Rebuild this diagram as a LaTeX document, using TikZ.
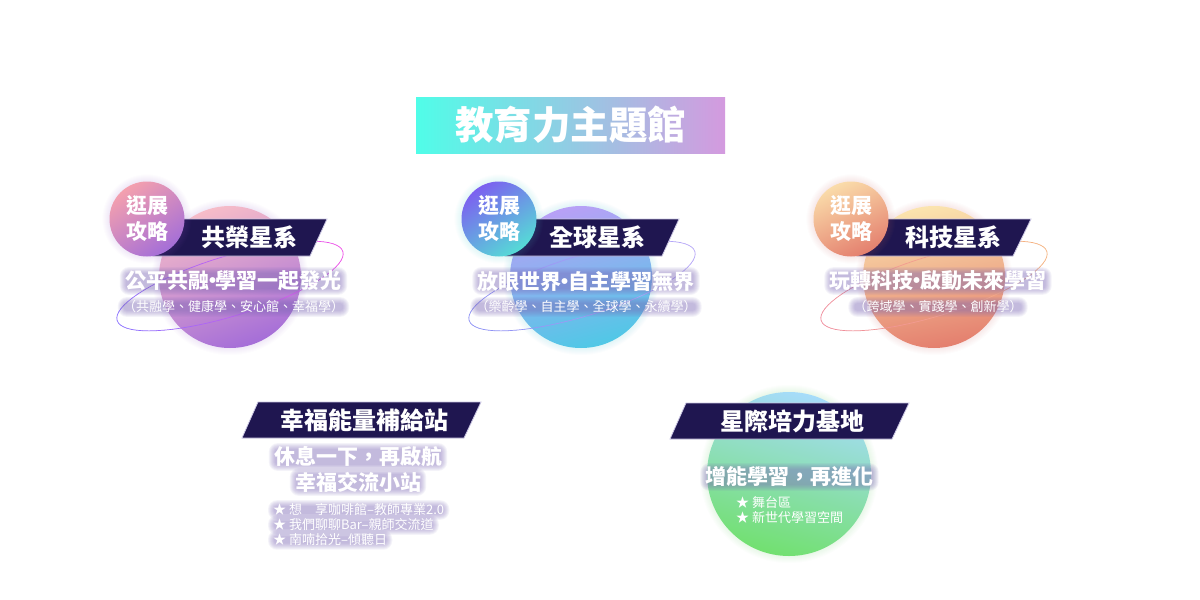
\documentclass[tikz,border=0pt]{standalone}
\usepackage{fontspec}
\setmainfont{Noto Sans CJK TC}
\newfontfamily\tcfont{Noto Sans CJK TC}
\newcommand{\middot}{\makebox[0.33em][c]{·}}
\pgfdeclarelayer{glowlayer}
\pgfdeclarelayer{textlayer}
\pgfsetlayers{main,glowlayer,textlayer}
\definecolor{bandark}{HTML}{1F1650}
\definecolor{banline}{HTML}{C9C5E2}
\definecolor{halo}{HTML}{7C68B8}
\definecolor{titleL}{HTML}{50FDE8}
\definecolor{titleR}{HTML}{D49ADF}
\definecolor{ringmag}{HTML}{F050E8}
\definecolor{ringvio}{HTML}{8A70FF}
\definecolor{ringlav}{HTML}{B8A8F8}
\definecolor{ringper}{HTML}{8C90F5}
\definecolor{ringora}{HTML}{F5B480}
\definecolor{ringros}{HTML}{F08C9C}
\tikzset{
  banner/.style={fill=bandark,draw=banline,line width=0.8pt,line join=miter},
  txt/.style={inner sep=0pt,text=white,font=\tcfont},
  ringline/.style={line width=0.7pt,line cap=round}
}
% soft halo behind a disc
\newcommand{\softhalo}[4]{%
  \foreach \haloi in {1,...,7}{\pgfmathsetmacro{\halor}{#3+\haloi}\fill[#4,opacity=.02] (#1,#2) circle (\halor);}}
% shaded disc: x, y, radius, angle, top, middle, bottom
\newcommand{\planet}[7]{%
  \softhalo{#1}{#2}{#3}{#7}%
  \shade[top color=#5,middle color=#6,bottom color=#7,shading angle=#4] (#1,#2) circle (#3);}
% plain text: name, position, size, weight, anchor, text
\newcommand{\ptext}[6]{%
  \begin{pgfonlayer}{textlayer}
    \node[txt,anchor=#5,font=\tcfont#4\fontsize{#3}{#3}\selectfont] (#1) at (#2) {#6};
  \end{pgfonlayer}}
% text on a soft glow band
\newcommand{\gtext}[6]{%
  \ptext{#1}{#2}{#3}{#4}{#5}{#6}%
  \begin{pgfonlayer}{glowlayer}
    \foreach \glowk in {5,4,3,2,1,0,-1}{%
      \pgfmathsetmacro{\glowr}{\glowk+4}%
      \fill[halo,opacity=.08,rounded corners=\glowr pt]
        ([shift={(-\glowk,-\glowk+1.5)}]#1.north west) rectangle ([shift={(\glowk,\glowk-1.5)}]#1.south east);%
    }
  \end{pgfonlayer}}
% tilted ellipse with a colour running from left to right
\newcommand{\ringpath}[4]{%
  \colorlet{ringR}{#3}\colorlet{ringL}{#4}%
  \foreach \ringang in {0,5,...,355}{%
    \pgfmathtruncatemacro{\ringmix}{50+50*cos(\ringang+2.5)}%
    \colorlet{ringC}{ringR!\ringmix!ringL}%
    \pgfmathsetmacro{\ringxa}{#1+118*cos(\ringang)*cos(17)+30*sin(\ringang)*sin(17)}%
    \pgfmathsetmacro{\ringya}{#2-118*cos(\ringang)*sin(17)+30*sin(\ringang)*cos(17)}%
    \pgfmathsetmacro{\ringxb}{#1+118*cos(\ringang+5)*cos(17)+30*sin(\ringang+5)*sin(17)}%
    \pgfmathsetmacro{\ringyb}{#2-118*cos(\ringang+5)*sin(17)+30*sin(\ringang+5)*cos(17)}%
    \draw[ringline,draw=ringC] (\ringxa,\ringya) -- (\ringxb,\ringyb);%
  }}
% colours of the planets
\definecolor{pA}{HTML}{F6BCC8}\definecolor{pB}{HTML}{E596BC}\definecolor{pC}{HTML}{A56ED8}
\definecolor{qA}{HTML}{B8A0F6}\definecolor{qB}{HTML}{7FB0EA}\definecolor{qC}{HTML}{50C8E6}
\definecolor{rA}{HTML}{FBE4AE}\definecolor{rB}{HTML}{F3AE90}\definecolor{rC}{HTML}{E47F6E}
\definecolor{sA}{HTML}{A6DCFA}\definecolor{sB}{HTML}{72C8BE}\definecolor{sC}{HTML}{72E070}
\definecolor{baA}{HTML}{F4A0AE}\definecolor{baB}{HTML}{CE88C4}\definecolor{baC}{HTML}{A46ED8}
\definecolor{bbA}{HTML}{7C60F0}\definecolor{bbB}{HTML}{62A0E4}\definecolor{bbC}{HTML}{55DCD6}
\definecolor{bcA}{HTML}{FADCAA}\definecolor{bcB}{HTML}{F0AE8E}\definecolor{bcC}{HTML}{E47F6E}
\begin{document}
\begin{tikzpicture}[x=1pt,y=-1pt]
\useasboundingbox (0,0) rectangle (1200,600);
\fill[white] (0,0) rectangle (1200,600);

% title
\node[inner sep=0pt,minimum width=309pt,minimum height=56pt,left color=titleL,right color=titleR] (titlebox) at (570.5,125) {};
\ptext{titletext}{570.5,125}{38.5}{\bfseries}{center}{教育力主題館}

% ---------- planet 1
\planet{230}{277}{71}{20}{pA}{pB}{pC}
\ringpath{230}{286}{ringmag}{ringvio}
\draw[banner] (172,219) -- (327,219) -- (310,256) -- (153,256) -- cycle;
\planet{147}{219}{37.5}{35}{baA}{baB}{baC}

% ---------- planet 2
\planet{581}{277}{71}{15}{qA}{qB}{qC}
\ringpath{582}{286}{ringlav}{ringper}
\draw[banner] (524,219) -- (679,219) -- (662,256) -- (505,256) -- cycle;
\planet{499}{219}{37.5}{35}{bbA}{bbB}{bbC}

% ---------- planet 3
\planet{934}{277}{71}{10}{rA}{rB}{rC}
\ringpath{934}{286}{ringora}{ringros}
\draw[banner] (876,219) -- (1031,219) -- (1013,256) -- (857,256) -- cycle;
\planet{851}{219}{37.5}{25}{bcA}{bcB}{bcC}

% ---------- planet 5
\planet{789}{474}{82}{-15}{sA}{sB}{sC}

% ---------- banners 4 and 5
\draw[banner] (258,402) -- (481,402) -- (464,438) -- (242,438) -- cycle;
\draw[banner] (686,403) -- (909,403) -- (892,439) -- (670,439) -- cycle;

% ---------- texts, planet 1
\ptext{b1a}{147,206}{21}{\bfseries}{center}{逛展}
\ptext{b1b}{147,231}{21}{\bfseries}{center}{攻略}
\ptext{h1}{249.5,237}{24}{\bfseries}{center}{共榮星系}
\gtext{s1}{233.5,281}{21}{\bfseries}{center}{公平共融\middot 學習一起發光}
\gtext{d1}{233.5,307}{13}{}{center}{（共融學、健康學、安心館、幸福學）}

% ---------- texts, planet 2
\ptext{b2a}{499,206}{21}{\bfseries}{center}{逛展}
\ptext{b2b}{499,231}{21}{\bfseries}{center}{攻略}
\ptext{h2}{597.5,237}{24}{\bfseries}{center}{全球星系}
\gtext{s2}{586,281}{21}{\bfseries}{center}{放眼世界\middot 自主學習無界}
\gtext{d2}{586,307}{13}{}{center}{（樂齡學、自主學、全球學、永續學）}

% ---------- texts, planet 3
\ptext{b3a}{851,206}{21}{\bfseries}{center}{逛展}
\ptext{b3b}{851,231}{21}{\bfseries}{center}{攻略}
\ptext{h3}{953,237}{24}{\bfseries}{center}{科技星系}
\gtext{s3}{938,281}{21}{\bfseries}{center}{玩轉科技\middot 啟動未來學習}
\gtext{d3}{938,307}{13}{}{center}{（跨域學、實踐學、創新學）}

% ---------- texts, station 4
\ptext{h4}{364,420}{24}{\bfseries}{center}{幸福能量補給站}
\gtext{s4a}{358,457}{21}{\bfseries}{center}{休息一下，再啟航}
\gtext{s4b}{358,482}{21}{\bfseries}{center}{幸福交流小站}
\gtext{l4a}{273,510}{13}{}{west}{★ 想　享咖啡館–教師專業2.0}
\gtext{l4b}{273,525}{13}{}{west}{★ 我們聊聊Bar–親師交流道}
\gtext{l4c}{273,540}{13}{}{west}{★ 南喃拾光–傾聽日}

% ---------- texts, base 5
\ptext{h5}{792.5,421}{24}{\bfseries}{center}{星際培力基地}
\gtext{s5}{789.5,477}{21}{\bfseries}{center}{增能學習，再進化}
\ptext{l5a}{736,503}{13}{}{west}{★ 舞台區}
\ptext{l5b}{736,518}{13}{}{west}{★ 新世代學習空間}
\end{tikzpicture}
\end{document}
